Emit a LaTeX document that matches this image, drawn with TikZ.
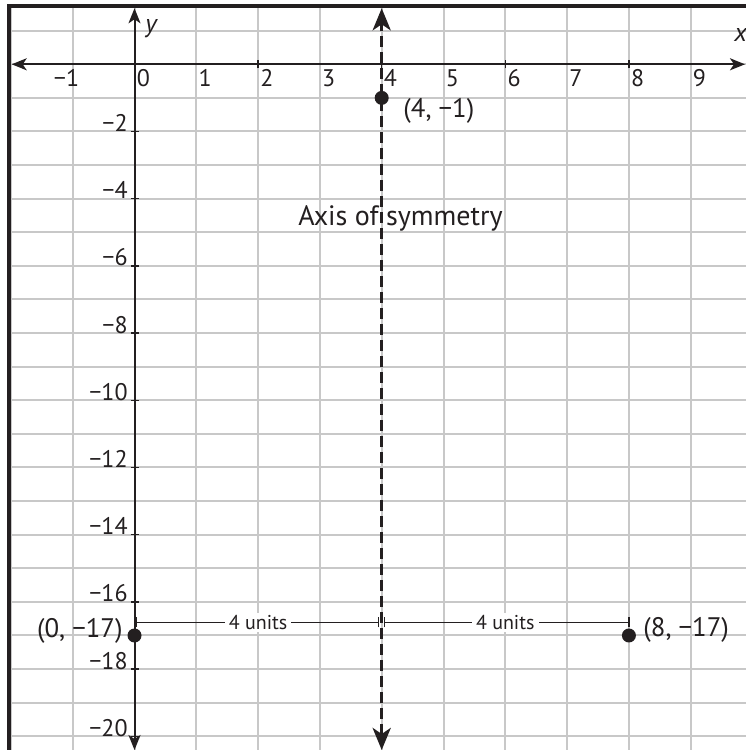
\documentclass[tikz,border=0pt]{standalone}
\usepackage{fontspec}
\setmainfont{PT Sans}
\usetikzlibrary{arrows.meta}
\definecolor{ink}{RGB}{35,31,32}
\definecolor{gridc}{RGB}{200,200,200}
\begin{document}
\begin{tikzpicture}[x=30.9pt,y=16.8pt,
  gridline/.style={draw=gridc,line width=1pt},
  frameline/.style={draw=ink,line width=2pt,line join=miter},
  axisline/.style={draw=ink,line width=1pt,{Stealth[length=7.5pt,width=6pt,inset=2pt]}-{Stealth[length=7.5pt,width=6pt,inset=2pt]}},
  symline/.style={draw=ink,line width=1.75pt,dash pattern=on 5.5pt off 2.5pt,{Stealth[length=11pt,width=9pt,inset=3pt]}-{Stealth[length=11pt,width=9pt,inset=3pt]}},
  tickline/.style={draw=ink,line width=0.7pt},
  numlabel/.style={font=\fontsize{12}{14}\selectfont,text=ink,inner sep=0pt},
  ptlabel/.style={font=\fontsize{13.4}{16}\selectfont,text=ink,inner sep=0pt},
  axlabel/.style={font=\fontsize{13}{15}\selectfont\itshape,text=ink,inner sep=0pt},
  symlabel/.style={font=\fontsize{14}{16}\selectfont,text=ink,inner sep=0pt},
  dot/.style={circle,fill=ink,inner sep=0pt,minimum size=7pt},
  dimline/.style={draw=ink,line width=0.6pt},
  dimlabel/.style={font=\fontsize{10}{12}\selectfont,text=ink,fill=white,inner xsep=2pt,inner ysep=1pt}
]
\useasboundingbox (-2.1764,-20.408) rectangle (9.8786,1.9137);
% grid
\begin{scope}
  \clip (-2.0356,-20.6) rectangle (10,1.735);
  \foreach \i in {-2,...,9} \draw[gridline] (\i,-20.6) -- (\i,1.8);
  \foreach \j in {-20,...,1} \draw[gridline] (-2.1,\j) -- (10,\j);
\end{scope}
% frame
\coordinate (fb) at (-2.0356,-20.6);
\coordinate (fc) at (-2.0356,1.735);
\coordinate (fr) at (10,1.735);
\draw[frameline] (fb) -- (fc) -- (fr);
% axes
\coordinate (xl) at (-1.987,0);
\coordinate (xr) at (9.8786,0);
\draw[axisline] (xl) -- (xr);
\coordinate (yt) at (0,1.667);
\coordinate (yb) at (0,-20.408);
\draw[axisline] (yb) -- (yt);
% ticks
\foreach \i in {2,4,6,8} {
  \coordinate (xta\i) at (\i,-0.119);
  \coordinate (xtb\i) at (\i,0.119);
  \draw[tickline] (xta\i) -- (xtb\i);
}
\foreach \j [count=\k] in {-2,-4,...,-20} {
  \coordinate (yta\k) at (-0.057,\j);
  \coordinate (ytb\k) at (0.065,\j);
  \draw[tickline] (yta\k) -- (ytb\k);
}
% axis numbers
\node[numlabel,anchor=base east] (xm1) at (-0.89,-0.66) {−1};
\foreach \i in {0,...,9}
  \node[numlabel,anchor=base west] (xn\i) at (\i+0.03,-0.66) {\i};
\foreach \j [count=\k] in {-2,-4,...,-20} {
  \pgfmathtruncatemacro\absj{-\j}
  \node[numlabel,anchor=base east] (yn\k) at (-0.105,\j) {−\absj};
}
\node[axlabel,anchor=base west] (ylab) at (0.170,0.932) {y};
\node[axlabel,anchor=base west] (xlab) at (9.70,0.664) {x};
% axis of symmetry
\coordinate (st) at (4,1.667);
\coordinate (sb) at (4,-20.408);
\draw[symline] (sb) -- (st);
\node[symlabel,anchor=base] (axs) at (4.304,-4.812) {Axis of symmetry};
% dimension lines
\coordinate (d0) at (0.024,-16.607);
\coordinate (dm1) at (3.951,-16.607);
\coordinate (dm2) at (4.049,-16.607);
\coordinate (d8) at (8,-16.607);
\draw[dimline] (d0) -- (dm1);
\draw[dimline] (dm2) -- (d8);
\foreach \c in {d0,dm1,dm2,d8}
  \draw[dimline] ([yshift=-2.5pt]\c) -- ([yshift=2.5pt]\c);
\node[dimlabel] (u1) at (2,-16.607) {4 units};
\node[dimlabel] (u2) at (6,-16.607) {4 units};
% points
\node[dot] (p1) at (4,-1) {};
\node[dot] (p2) at (0,-17) {};
\node[dot] (p3) at (8,-17) {};
\node[ptlabel,anchor=west] (l1) at (4.345,-1.39) {(4, −1)};
\node[ptlabel,anchor=east] (l2) at (-0.186,-16.866) {(0, −17)};
\node[ptlabel,anchor=west] (l3) at (8.228,-16.836) {(8, −17)};
\end{tikzpicture}
\end{document}
